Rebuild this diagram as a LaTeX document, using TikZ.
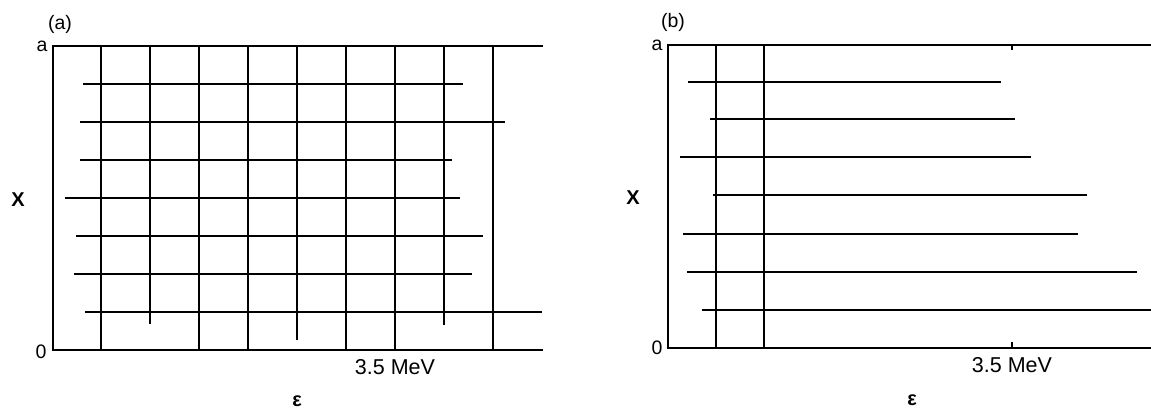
\documentclass[tikz,border=0pt]{standalone}
\usepackage{fontspec}
\setmainfont{Liberation Sans}
\begin{document}
\begin{tikzpicture}[x=1pt,y=-1pt,
  frame/.style={line width=1.6pt},
  gridline/.style={line width=2.2pt},
  lbl/.style={font=\fontsize{19.5}{22}\selectfont, inner sep=0pt},
  biglbl/.style={font=\fontsize{21.5}{24}\selectfont, inner sep=0pt},
  boldlbl/.style={font=\fontsize{20}{24}\selectfont\bfseries, inner sep=0pt}]
\useasboundingbox (0,0) rectangle (1151,409);
% ---------- panel (a)
\draw[frame] (543,46) -- (53,46) -- (53,350) -- (543,350);
\foreach \x/\yb in {101/350,150/324,199/350,248/350,297/340,346/350,395/350,444/325,493/350}
  \draw[gridline] (\x,46) -- (\x,\yb);
\foreach \y/\xa/\xb in {84/83/463,122/80/505,160/80/452,198/65/460,236/76/483,274/74/472,312/85/542}
  \draw[gridline] (\xa,\y) -- (\xb,\y);
\node[lbl] (la) at (60,24) {(a)};
\node[lbl] (aa) at (42,46) {a};
\node[lbl] (za) at (41,352) {0};
\node[boldlbl] (xa) at (18,200) {X};
\node[biglbl] (ma) at (395,367) {3.5 MeV};
\node[boldlbl] (ea) at (297,401) {ε};
% ---------- panel (b)
\draw[frame] (1151,45) -- (668,45) -- (668,348) -- (1151,348);
\foreach \x in {716,764}
  \draw[gridline] (\x,45) -- (\x,348);
\draw[frame] (1012,45) -- (1012,50);
\draw[frame] (1012,348) -- (1012,342);
\foreach \y/\xa/\xb in {82/688/1001,119/710/1015,157/680/1031,195/713/1087,234/683/1078,272/687/1137,310/702/1151}
  \draw[gridline] (\xa,\y) -- (\xb,\y);
\node[lbl] (lb) at (673,22) {(b)};
\node[lbl] (ab) at (657,45) {a};
\node[lbl] (zb) at (657,348) {0};
\node[boldlbl] (xb) at (633,198) {X};
\node[biglbl] (mb) at (1012,365) {3.5 MeV};
\node[boldlbl] (eb) at (912,400) {ε};
\end{tikzpicture}
\end{document}
